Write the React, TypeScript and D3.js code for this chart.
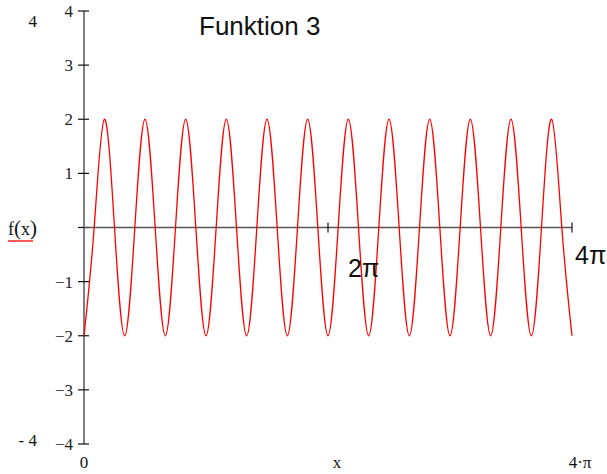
import React, { useEffect, useRef } from 'react';
import * as d3 from 'd3';

// f(x) read at every quarter period (step π/12) from 0 to 4π
const fValues = [
  -2, 0, 2, 0, -2, 0, 2, 0, -2, 0, 2, 0,
  -2, 0, 2, 0, -2, 0, 2, 0, -2, 0, 2, 0,
  -2, 0, 2, 0, -2, 0, 2, 0, -2, 0, 2, 0,
  -2, 0, 2, 0, -2, 0, 2, 0, -2, 0, 2, 0,
  -2,
];
const xStep = Math.PI / 12;
const yTicks = [4, 3, 2, 1, 0, -1, -2, -3, -4];
const xMarks = [2 * Math.PI, 4 * Math.PI];

const W = 607;
const H = 474;

export default function App() {
  const svgRef = useRef<SVGSVGElement | null>(null);

  useEffect(() => {
    if (!svgRef.current) return;
    const svg = d3.select(svgRef.current);
    svg.selectAll('*').remove();

    const x = d3.scaleLinear().domain([0, 4 * Math.PI]).range([84, 572]);
    const y = d3.scaleLinear().domain([-4, 4]).range([444, 11]);

    const serif = "'Liberation Serif', 'Times New Roman', serif";
    const sans = "'Liberation Sans', Arial, sans-serif";
    const axisColor = '#555';

    // y axis
    svg.append('line')
      .attr('x1', x(0)).attr('x2', x(0))
      .attr('y1', y(4)).attr('y2', y(-4))
      .attr('stroke', axisColor).attr('stroke-width', 1.5);

    svg.append('g').selectAll('line')
      .data(yTicks)
      .join('line')
      .attr('x1', x(0) - 6).attr('x2', x(0) + 5)
      .attr('y1', d => y(d)).attr('y2', d => y(d))
      .attr('stroke', '#111').attr('stroke-width', 1.2);

    svg.append('g').selectAll('text')
      .data(yTicks.filter(d => d !== 0))
      .join('text')
      .attr('x', x(0) - 11)
      .attr('y', d => y(d))
      .attr('dy', '0.36em')
      .attr('text-anchor', 'end')
      .style('font-family', serif)
      .style('font-size', '17px')
      .attr('fill', '#222')
      .text(d => (d < 0 ? '\u2212' + Math.abs(d) : String(d)));

    // x axis at y = 0
    svg.append('line')
      .attr('x1', x(0)).attr('x2', x(4 * Math.PI))
      .attr('y1', y(0)).attr('y2', y(0))
      .attr('stroke', axisColor).attr('stroke-width', 1.5);

    svg.append('g').selectAll('line')
      .data(xMarks)
      .join('line')
      .attr('x1', d => x(d)).attr('x2', d => x(d))
      .attr('y1', y(0) - 5).attr('y2', y(0) + 5)
      .attr('stroke', '#111').attr('stroke-width', 1.2);

    // curve
    const line = d3.line<number>()
      .x((_, i) => x(i * xStep))
      .y(d => y(d))
      .curve(d3.curveNatural);

    svg.append('path')
      .datum(fValues)
      .attr('d', line)
      .attr('fill', 'none')
      .attr('stroke', '#ff0000')
      .attr('stroke-width', 1.3);

    // texts
    const txt = (tx: number, ty: number, s: string, font: string, size: number, anchor = 'start') =>
      svg.append('text')
        .attr('x', tx).attr('y', ty)
        .attr('text-anchor', anchor)
        .style('font-family', font)
        .style('font-size', `${size}px`)
        .attr('fill', '#111')
        .text(s);

    txt(199, 35, 'Funktion 3', sans, 26);
    txt(348, 277, '2\u03c0', sans, 25);
    txt(575, 264, '4\u03c0', sans, 25);

    txt(37, 27, '4', serif, 17, 'end');
    txt(37, 446, '- 4', serif, 17, 'end');
    txt(x(0), 468, '0', serif, 17, 'middle');
    txt(337, 468, 'x', serif, 17, 'middle');
    txt(580, 468, '4\u00b7\u03c0', serif, 17, 'middle');

    // f(x) label with red underline
    const fx = svg.append('text')
      .attr('x', 8).attr('y', 235)
      .style('font-family', serif)
      .style('font-size', '18px')
      .attr('fill', '#111');
    fx.append('tspan').text('f');
    fx.append('tspan').style('font-size', '21px').text('(');
    fx.append('tspan').text('x');
    fx.append('tspan').style('font-size', '21px').text(')');

    svg.append('line')
      .attr('x1', 8).attr('x2', 33)
      .attr('y1', 241).attr('y2', 241)
      .attr('stroke', '#ff0000').attr('stroke-width', 1.3);
  }, []);

  return (
    <svg
      ref={svgRef}
      width={W}
      height={H}
      style={{ position: 'absolute', left: 0, top: 0, background: '#fff' }}
    />
  );
}
